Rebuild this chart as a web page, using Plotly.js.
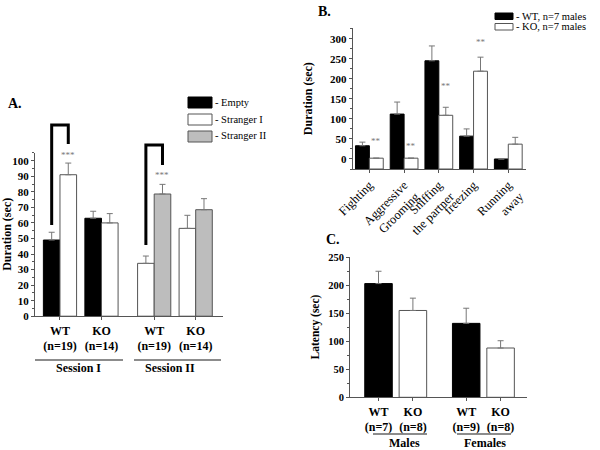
<!DOCTYPE html>
<html>
<head>
<meta charset="utf-8">
<script src="https://cdn.plot.ly/plotly-3.0.1.min.js"></script>
<style>
  html, body { margin: 0; padding: 0; background: #fff; }
  #chart { width: 600px; height: 450px; }
</style>
</head>
<body>
<div id="chart"></div>
<script>
// A. three-chamber test, time spent near each chamber
const aGroups = ['WT<br>(n=19)', 'KO<br>(n=14)', 'WT<br>(n=19)', 'KO<br>(n=14)'];
const aSessions = ['Session I', 'Session II'];
const aEmpty = [49, 63, null, null];
const aEmptyErr = [5, 4.5, 0, 0];
const aStranger1 = [91, 60, 34, 56.5];
const aStranger1Err = [7.5, 6, 4.7, 8.4];
const aStranger2 = [null, null, 78.6, 68.5];
const aStranger2Err = [0, 0, 6.2, 7.1];
const aLegend = ['- Empty', '- Stranger I', '- Stranger II'];

// B. resident-intruder behaviours
const bBehaviours = ['Fighting', 'Aggressive<br>Grooming', 'Sniffing<br>the partner', 'freezing', 'Running<br>away'];
const bWT = [33, 112, 245, 57, 0];
const bWTErr = [9, 30, 37, 18, 0];
const bKO = [2, 2, 109, 219, 37];
const bKOErr = [0, 0, 20, 35, 17];
const bStars = [45, 32.5, 183, 292, null];
const bLegend = ['- WT, n=7 males', '- KO, n=7 males'];

// C. latency
const cGroups = ['WT<br>(n=7)', 'KO<br>(n=8)', 'WT<br>(n=9)', 'KO<br>(n=8)'];
const cSex = ['Males', 'Females'];
const cLatency = [203, 155, 132, 88];
const cLatencyErr = [22, 22, 27, 13];

const FONT = "'Liberation Serif', 'Times New Roman', serif";
const EDGE = '#555';
const GREY = '#bdbdbd';

// group positions (session II / females sit a bit further right)
const aPos = [1, 2, 3.27, 4.27];
const cPos = [1, 2, 3.55, 4.55];
const W = 0.4;

function xp(px) { return px / 600; }
function yp(py) { return 1 - py / 450; }

function errUp(arr) {
    return {type: 'data', symmetric: false, array: arr, arrayminus: arr.map(() => 0),
        color: '#777', thickness: 1, width: 3};
}

const B_BASE = -25;

let traces = [
    {type: 'bar', x: aPos, y: aEmpty, width: W, offset: -W, xaxis: 'x', yaxis: 'y',
     marker: {color: '#000', line: {color: '#000', width: 1}}, error_y: errUp(aEmptyErr)},
    {type: 'bar', x: aPos, y: aStranger1, width: W, xaxis: 'x', yaxis: 'y',
     offset: aStranger1.map((v, i) => aEmpty[i] == null ? -W : 0),
     marker: {color: '#fff', line: {color: EDGE, width: 1}}, error_y: errUp(aStranger1Err)},
    {type: 'bar', x: aPos, y: aStranger2, width: W, offset: 0, xaxis: 'x', yaxis: 'y',
     marker: {color: GREY, line: {color: EDGE, width: 1}}, error_y: errUp(aStranger2Err)},

    {type: 'bar', x: bBehaviours, y: bWT.map(v => v - B_BASE), base: B_BASE, xaxis: 'x2', yaxis: 'y2',
     marker: {color: '#000', line: {color: '#000', width: 1}}, error_y: errUp(bWTErr)},
    {type: 'bar', x: bBehaviours, y: bKO.map(v => v - B_BASE), base: B_BASE, xaxis: 'x2', yaxis: 'y2',
     marker: {color: '#fff', line: {color: EDGE, width: 1}}, error_y: errUp(bKOErr)},

    {type: 'bar', x: cPos, y: cLatency, width: 0.8, offset: -0.4, xaxis: 'x3', yaxis: 'y3',
     marker: {color: cGroups.map(g => g.startsWith('WT') ? '#000' : '#fff'),
              line: {color: cGroups.map(g => g.startsWith('WT') ? '#000' : EDGE), width: 1}},
     error_y: errUp(cLatencyErr)}
];

const axisBase = {showgrid: false, zeroline: false, showline: true, linecolor: EDGE, linewidth: 1,
    ticks: 'outside', ticklen: 3, tickcolor: EDGE, fixedrange: true};

let shapes = [];
let annotations = [];

function label(x, y, text, font, xanchor) {
    annotations.push({xref: 'paper', yref: 'paper', x: xp(x), y: yp(y), text: text,
        xanchor: xanchor || 'center', yanchor: 'middle', showarrow: false, font: font});
}

// significance brackets in A
const bracket = [
    {x0: aPos[0] - W / 2, x1: aPos[0] + W / 2, top: 125, y0: 225, y1: 144},
    {x0: aPos[2] - W / 2, x1: aPos[2] + W / 2, top: 145, y0: 245, y1: 165}
];
bracket.forEach(b => {
    shapes.push({type: 'path', xref: 'x', yref: 'paper',
        path: 'M' + b.x0 + ',' + yp(b.y0) + ' L' + b.x0 + ',' + yp(b.top) +
              ' L' + b.x1 + ',' + yp(b.top) + ' L' + b.x1 + ',' + yp(b.y1),
        line: {color: '#000', width: 3}});
});
annotations.push({xref: 'x', yref: 'y', x: aPos[0] + W / 2, y: 104, text: '***', showarrow: false,
    xanchor: 'center', yanchor: 'middle', font: {size: 9, color: '#777'}});
annotations.push({xref: 'x', yref: 'y', x: aPos[2] + W / 2, y: 91, text: '***', showarrow: false,
    xanchor: 'center', yanchor: 'middle', font: {size: 9, color: '#777'}});

// session / sex underlines
const underline = [
    {x0: 35, x1: 123, y: 360, tx: 78, ty: 368, text: aSessions[0]},
    {x0: 134, x1: 221, y: 360, tx: 170, ty: 368, text: aSessions[1]},
    {x0: 373, x1: 427, y: 434, tx: 404, ty: 443, text: cSex[0]},
    {x0: 457, x1: 511, y: 434, tx: 485, ty: 443, text: cSex[1]}
];
underline.forEach(u => {
    shapes.push({type: 'line', xref: 'paper', yref: 'paper', x0: xp(u.x0), x1: xp(u.x1),
        y0: yp(u.y), y1: yp(u.y), line: {color: '#666', width: 1.5}});
    label(u.tx, u.ty, u.text, {size: 12, weight: 'bold'});
});

// ** in B, over the KO bars
bStars.forEach((s, i) => {
    if (s == null) return;
    annotations.push({xref: 'x2', yref: 'y2', x: i + 0.2, y: s, text: '**', showarrow: false,
        xanchor: 'center', yanchor: 'middle', font: {size: 9, color: '#777'}});
});

// hand drawn legends
const aLegendFill = ['#000', '#fff', GREY];
const aLegendY = [97, 114, 131];
aLegend.forEach((t, i) => {
    shapes.push({type: 'rect', xref: 'paper', yref: 'paper', x0: xp(188), x1: xp(212),
        y0: yp(aLegendY[i]), y1: yp(aLegendY[i] + 11), fillcolor: aLegendFill[i],
        line: {color: i == 0 ? '#000' : EDGE, width: 1}});
    label(213, aLegendY[i] + 5, t, {size: 10.5}, 'left');
});
const bLegendFill = ['#000', '#fff'];
const bLegendY = [13, 23.5];
bLegend.forEach((t, i) => {
    shapes.push({type: 'rect', xref: 'paper', yref: 'paper', x0: xp(495), x1: xp(513),
        y0: yp(bLegendY[i]), y1: yp(bLegendY[i] + 6.5), fillcolor: bLegendFill[i],
        line: {color: i == 0 ? '#000' : EDGE, width: 1}});
    label(514, bLegendY[i] + 3, t, {size: 10.5}, 'left');
});

// panel letters
label(6, 103, 'A.', {size: 14, weight: 'bold'}, 'left');
label(316, 12, 'B.', {size: 14, weight: 'bold'}, 'left');
label(324, 239, 'C.', {size: 14, weight: 'bold'}, 'left');

const layout = {
    width: 600, height: 450,
    margin: {l: 0, r: 0, t: 0, b: 0},
    paper_bgcolor: '#fff', plot_bgcolor: 'rgba(0,0,0,0)',
    showlegend: false, barmode: 'group', bargap: 0.2, bargroupgap: 0,
    font: {family: FONT, color: '#000'},
    xaxis: Object.assign({}, axisBase, {anchor: 'y', domain: [xp(35), xp(223)], range: [0.398, 4.928],
        tickvals: aPos, ticktext: aGroups, tickfont: {size: 12, weight: 'bold'}}),
    yaxis: Object.assign({}, axisBase, {anchor: 'x', domain: [yp(316.2), yp(152.5)], range: [0, 105.3],
        dtick: 10, tickfont: {size: 11, weight: 'bold'},
        minor: {dtick: 5, ticks: 'outside', ticklen: 2, tickcolor: EDGE},
        title: {text: 'Duration (sec)', font: {size: 12, weight: 'bold'}, standoff: 2}}),
    xaxis2: Object.assign({}, axisBase, {anchor: 'y2', domain: [xp(352.7), xp(526)], range: [-0.48, 4.51],
        tickangle: -45, tickfont: {size: 12.5}}),
    yaxis2: Object.assign({}, axisBase, {anchor: 'x2', domain: [yp(169), yp(28.3)], range: [B_BASE, 326],
        tick0: 0, dtick: 50, tickfont: {size: 11, weight: 'bold'},
        minor: {tick0: 0, dtick: 25, ticks: 'outside', ticklen: 2, tickcolor: EDGE},
        title: {text: 'Duration (sec)', font: {size: 12, weight: 'bold'}, standoff: 14}}),
    xaxis3: Object.assign({}, axisBase, {anchor: 'y3', domain: [xp(350), xp(526.7)], range: [0.171, 5.309],
        tickvals: cPos, ticktext: cGroups, tickfont: {size: 12, weight: 'bold'}}),
    yaxis3: Object.assign({}, axisBase, {anchor: 'x3', domain: [yp(397.3), yp(256.7)], range: [0, 251],
        dtick: 50, tickfont: {size: 10.5, weight: 'bold'},
        minor: {dtick: 25, ticks: 'outside', ticklen: 2, tickcolor: EDGE},
        title: {text: 'Latency (sec)', font: {size: 11.5, weight: 'bold'}, standoff: 6}}),
    shapes: shapes,
    annotations: annotations
};

Plotly.newPlot('chart', traces, layout, {displayModeBar: false, staticPlot: true});
</script>
</body>
</html>
